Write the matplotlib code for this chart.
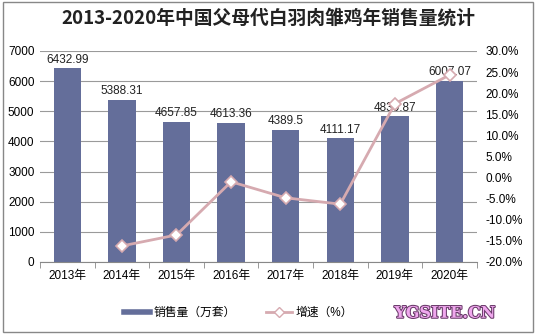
import matplotlib
matplotlib.use("Agg")
import matplotlib.pyplot as plt
import matplotlib.patheffects as pe
from matplotlib.lines import Line2D
from matplotlib.patches import Rectangle
import numpy as np

plt.rcParams['font.family'] = ['Liberation Sans', 'Noto Sans CJK SC', 'DejaVu Sans']

# 数据
years = ['2013年', '2014年', '2015年', '2016年', '2017年', '2018年', '2019年', '2020年']
sales = [6432.99, 5388.31, 4657.85, 4613.36, 4389.5, 4111.17, 4830.87, 6007.07]
growth = [None, -16.2, -13.6, -1.0, -4.8, -6.3, 17.5, 24.3]

bar_color = '#646e9a'
line_color = '#d6aab0'

fig = plt.figure(figsize=(5.36, 3.35), dpi=100)
ax = fig.add_axes([0.0746, 0.218, 0.815, 0.63])
x = np.arange(len(years))

ax.bar(x, sales, width=0.5, color=bar_color, zorder=2)
for xi, v in zip(x, sales):
    ax.text(xi, v + 80, f'{v:g}', ha='center', va='bottom', fontsize=8.5, color='#222222', zorder=3)

ax.set_ylim(0, 7000)
ax.set_yticks(range(0, 7001, 1000))
ax.set_xlim(-0.5, len(years) - 0.5)
ax.set_xticks(x)
ax.set_xticklabels(years, fontsize=8.5)
ax.tick_params(axis='x', length=0, pad=6)
ax.tick_params(axis='y', length=0, labelsize=8.5, pad=4)
ax.set_xticks(np.arange(-0.5, len(years)), minor=True)
ax.tick_params(axis='x', which='minor', length=4, color='#888888')
ax.grid(axis='y', color='#9a9a9a', linewidth=0.8, zorder=0)
for s in ['top', 'right', 'left']:
    ax.spines[s].set_visible(False)
ax.spines['bottom'].set_color('#888888')

# 增速折线（右轴）
ax2 = ax.twinx()
gx = [xi for xi, g in zip(x, growth) if g is not None]
gy = [g for g in growth if g is not None]
ax2.plot(gx, gy, color=line_color, linewidth=2, marker='D', markersize=6,
         markerfacecolor='white', markeredgecolor=line_color, markeredgewidth=1.2, zorder=4)
ax2.set_ylim(-20, 30)
ax2.set_yticks(range(-20, 31, 5))
ax2.set_yticklabels([f'{t:.1f}%' for t in range(-20, 31, 5)])
ax2.tick_params(axis='y', length=0, labelsize=8.5, pad=6)
for s in ['top', 'right', 'left', 'bottom']:
    ax2.spines[s].set_visible(False)

fig.text(0.5, 0.945, '2013-2020年中国父母代白羽肉雏鸡年销售量统计', ha='center', va='center',
         fontsize=13.5, fontweight='bold', color='#222222',
         family=['Noto Sans CJK SC', 'DejaVu Sans'])

handles = [Line2D([], [], color=bar_color, linewidth=4),
           Line2D([], [], color=line_color, linewidth=2, marker='D', markersize=5,
                  markerfacecolor='white', markeredgecolor=line_color)]
fig.legend(handles, ['销售量（万套）', '增速（%）'], loc='center', bbox_to_anchor=(0.445, 0.065),
           ncol=2, frameon=False, fontsize=8.5, handlelength=2.2, columnspacing=2.5, handletextpad=0.3)

fig.text(0.83, 0.065, 'YGSITE.CN', ha='center', va='center', fontsize=11.5, fontweight='bold',
         family='DejaVu Serif', color='#f0a8ee',
         path_effects=[pe.withStroke(linewidth=1.5, foreground='#6a3a6a')])

fig.patches.append(Rectangle((0.005, 0.008), 0.99, 0.985, transform=fig.transFigure,
                             fill=False, edgecolor='#888888', linewidth=1))

fig.savefig('out.png', dpi=100)
